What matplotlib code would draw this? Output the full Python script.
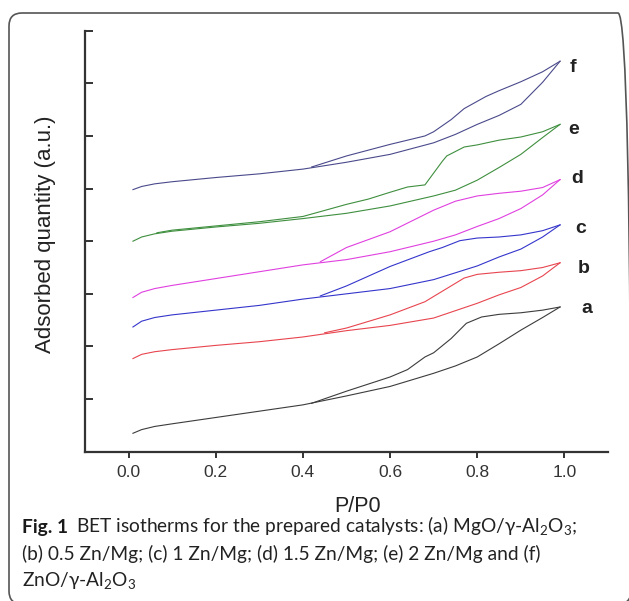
import numpy as np
import matplotlib
matplotlib.use('Agg')
import matplotlib.pyplot as plt
from matplotlib.patches import FancyBboxPatch
from matplotlib.transforms import IdentityTransform

# relative pressure grid shared by the adsorption branches
p_ads = [0.01, 0.03, 0.06, 0.1, 0.2, 0.3, 0.4, 0.5, 0.6, 0.7, 0.75, 0.8, 0.85, 0.9, 0.95, 0.99]

a_ads = [0.35, 0.42, 0.48, 0.53, 0.65, 0.77, 0.89, 1.06, 1.24, 1.49, 1.63, 1.80, 2.05, 2.31, 2.55, 2.75]
b_ads = [1.77, 1.85, 1.90, 1.94, 2.02, 2.09, 2.18, 2.30, 2.40, 2.54, 2.68, 2.82, 2.98, 3.12, 3.34, 3.59]
c_ads = [2.37, 2.48, 2.55, 2.60, 2.69, 2.78, 2.90, 3.00, 3.10, 3.27, 3.40, 3.53, 3.70, 3.85, 4.08, 4.31]
d_ads = [2.93, 3.03, 3.10, 3.16, 3.29, 3.42, 3.55, 3.65, 3.80, 4.00, 4.12, 4.28, 4.43, 4.62, 4.88, 5.17]
e_ads = [4.00, 4.08, 4.14, 4.19, 4.27, 4.34, 4.43, 4.53, 4.67, 4.86, 4.97, 5.16, 5.40, 5.65, 5.97, 6.22]
f_ads = [4.98, 5.04, 5.09, 5.13, 5.21, 5.28, 5.37, 5.50, 5.65, 5.87, 6.03, 6.22, 6.39, 6.60, 7.02, 7.42]

# desorption branches
a_des_p = [0.99, 0.95, 0.9, 0.85, 0.81, 0.775, 0.74, 0.7, 0.68, 0.64, 0.6, 0.5, 0.42]
a_des = [2.75, 2.69, 2.64, 2.61, 2.56, 2.44, 2.15, 1.88, 1.80, 1.56, 1.42, 1.15, 0.92]
b_des_p = [0.99, 0.95, 0.9, 0.85, 0.8, 0.77, 0.73, 0.68, 0.6, 0.5, 0.45]
b_des = [3.59, 3.50, 3.44, 3.41, 3.37, 3.30, 3.10, 2.85, 2.60, 2.35, 2.26]
c_des_p = [0.99, 0.95, 0.9, 0.85, 0.8, 0.76, 0.72, 0.69, 0.6, 0.5, 0.44]
c_des = [4.31, 4.20, 4.12, 4.08, 4.06, 4.01, 3.88, 3.80, 3.52, 3.15, 2.96]
d_des_p = [0.99, 0.95, 0.9, 0.85, 0.8, 0.75, 0.7, 0.6, 0.5, 0.44]
d_des = [5.17, 5.02, 4.95, 4.91, 4.86, 4.76, 4.59, 4.18, 3.88, 3.61]
e_des_p = [0.99, 0.95, 0.9, 0.85, 0.8, 0.77, 0.73, 0.72, 0.68, 0.64, 0.6, 0.55, 0.5, 0.4, 0.3, 0.2, 0.1, 0.065]
e_des = [6.22, 6.08, 5.98, 5.92, 5.83, 5.79, 5.62, 5.52, 5.07, 5.03, 4.93, 4.80, 4.70, 4.47, 4.37, 4.29, 4.21, 4.16]
f_des_p = [0.99, 0.95, 0.9, 0.85, 0.82, 0.77, 0.74, 0.7, 0.68, 0.6, 0.5, 0.42]
f_des = [7.42, 7.22, 7.03, 6.86, 6.75, 6.52, 6.31, 6.08, 6.00, 5.84, 5.62, 5.41]

names = ['a', 'b', 'c', 'd', 'e', 'f']
colors = ['#3c3c3c', '#e8454f', '#3535cc', '#e040e0', '#3f8f3f', '#4a4a8c']
label_x = [1.051, 1.045, 1.038, 1.030, 1.020, 1.019]
label_y = [2.72, 3.48, 4.25, 5.19, 6.12, 7.30]

ads = [a_ads, b_ads, c_ads, d_ads, e_ads, f_ads]
des_p = [a_des_p, b_des_p, c_des_p, d_des_p, e_des_p, f_des_p]
des = [a_des, b_des, c_des, d_des, e_des, f_des]

plt.rcParams['font.family'] = ['Liberation Sans', 'DejaVu Sans']

fig = plt.figure(figsize=(6.29, 6.01), dpi=100)
ax = fig.add_axes([85/629, 1 - 451.7/601, 523/629, 421/601])

for i in range(6):
    ax.plot(p_ads, ads[i], color=colors[i], lw=0.8)
    ax.plot(des_p[i], des[i], color=colors[i], lw=0.8)
    ax.text(label_x[i], label_y[i], names[i], fontsize=14, fontweight='bold',
            ha='center', va='center', color='#222222')

ax.set_xlim(-0.1, 1.1)
ax.set_ylim(0, 8)
ax.set_xticks([0.0, 0.2, 0.4, 0.6, 0.8, 1.0])
ax.set_xticklabels(['0.0', '0.2', '0.4', '0.6', '0.8', '1.0'])
ax.set_yticks([1, 2, 3, 4, 5, 6, 7, 8])
ax.set_yticklabels([])
for s in ['top', 'right']:
    ax.spines[s].set_visible(False)
for s in ['left', 'bottom']:
    ax.spines[s].set_linewidth(1.6)
    ax.spines[s].set_color('#333333')
ax.tick_params(axis='x', direction='out', length=4.5, width=1.4, colors='#333333',
               labelsize=12.5, pad=5)
ax.tick_params(axis='y', direction='in', length=6, width=1.4, colors='#333333')

ax.set_xlabel('P/P0', fontsize=15.5, color='#222222', va='top')
ax.xaxis.set_label_coords((358 - 85) / 523, (451.7 - 496) / 421)
ax.set_ylabel('Adsorbed quantity (a.u.)', fontsize=16, color='#222222', va='center')
ax.yaxis.set_label_coords((46 - 85) / 523, (451.7 - 234) / 421)

# caption
cap_font = ['Lato', 'DejaVu Sans']
cap_size = 13.8
fig.text(22/629, 1 - 533/601, 'Fig. 1', family=cap_font, fontsize=cap_size,
         fontweight='bold', va='baseline', color='#1a1a1a')
fig.text(76/629, 1 - 533/601,
         'BET isotherms for the prepared catalysts: (a) MgO/γ-Al$_\\mathregular{2}$O$_\\mathregular{3}$;',
         family=cap_font, fontsize=cap_size, va='baseline', color='#222222')
fig.text(22/629, 1 - 560/601,
         '(b) 0.5 Zn/Mg; (c) 1 Zn/Mg; (d) 1.5 Zn/Mg; (e) 2 Zn/Mg and (f)',
         family=cap_font, fontsize=cap_size, va='baseline', color='#222222')
fig.text(22/629, 1 - 587/601, 'ZnO/γ-Al$_\\mathregular{2}$O$_\\mathregular{3}$',
         family=cap_font, fontsize=cap_size, va='baseline', color='#222222')

# rounded frame around the figure panel (cut at the right and bottom)
frame = FancyBboxPatch((9, -3), 622, 591, boxstyle='round,pad=0,rounding_size=13',
                       transform=IdentityTransform(), fill=False,
                       edgecolor='#555555', lw=1.2)
fig.patches.append(frame)

fig.savefig('out.png', dpi=100)
